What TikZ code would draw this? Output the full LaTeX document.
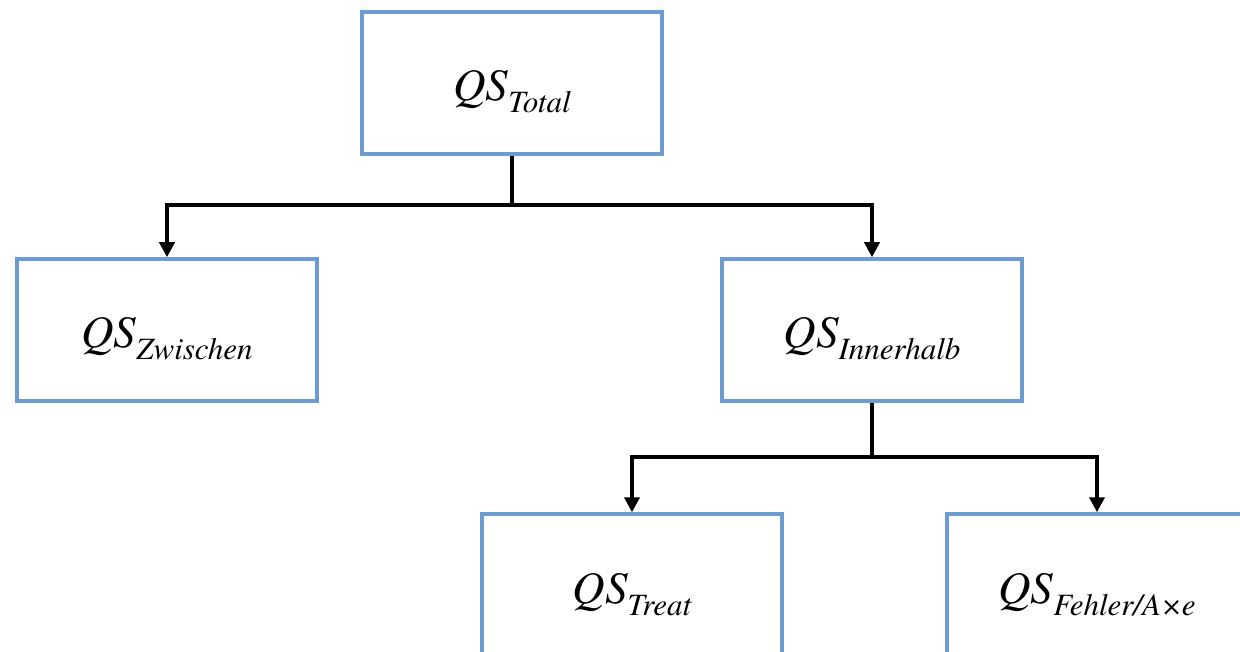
\documentclass[tikz,border=0pt]{standalone}
\usepackage{fontspec}
\newfontfamily\timesital{texgyretermes-italic}[Extension=.otf]
\usetikzlibrary{arrows.meta}

% QS with an italic subscript, set as in the source document
\newcommand{\qsterm}[1]{{\timesital\fontsize{45}{45}\selectfont QS\raisebox{-12pt}{\fontsize{31}{31}\selectfont #1}}}

\definecolor{boxblue}{RGB}{108,156,208}
\tikzset{
  blockbox/.style={draw=boxblue, line width=3.5pt, fill=white, inner sep=0pt,
    minimum width=300pt, text height=89pt, text depth=53pt},
  conn/.style={line width=4pt, line join=miter, draw=black},
  arrowconn/.style={conn, -{Triangle[length=15pt,width=15pt]}},
}

\begin{document}
\begin{tikzpicture}[x=1pt,y=-1pt]
  \useasboundingbox (0,0) rectangle (1240,652);
  \clip (0,0) rectangle (1240,652);

  % boxes (centres in px of the 1240x652 canvas)
  \node[blockbox] (total) at (512,83)  {\qsterm{Total}};
  \node[blockbox] (zw)    at (167,330) {\qsterm{Zwischen}};
  \node[blockbox] (inn)   at (872,330) {\qsterm{Innerhalb}};
  \node[blockbox] (treat) at (632,585) {\qsterm{Treat}};
  \node[blockbox] (err)   at (1097,585) {\qsterm{Fehler/A\texttimes e}};

  % first split
  \coordinate (j1) at (512,205);
  \draw[conn] (total.south) -- (j1);
  \draw[arrowconn] (j1) -| (zw.north);
  \draw[arrowconn] (j1) -| (inn.north);

  % second split
  \coordinate (j2) at (872,457);
  \draw[conn] (inn.south) -- (j2);
  \draw[arrowconn] (j2) -| (treat.north);
  \draw[arrowconn] (j2) -| (err.north);
\end{tikzpicture}
\end{document}
